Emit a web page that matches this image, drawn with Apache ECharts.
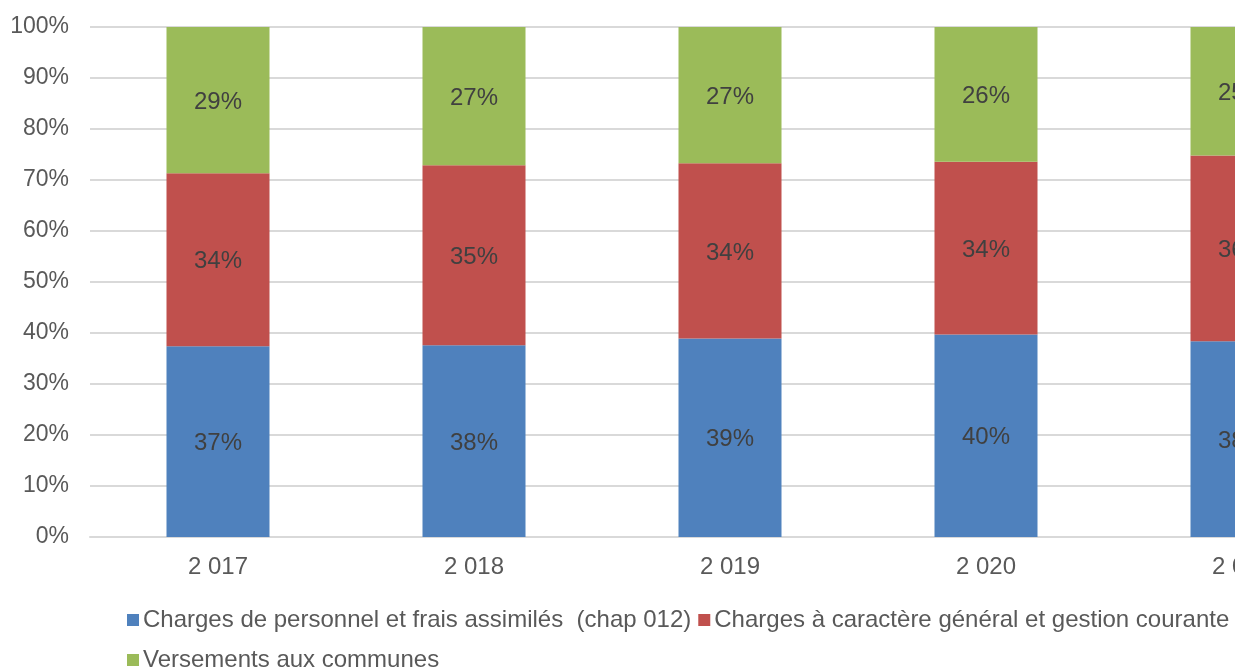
<!DOCTYPE html>
<html>
<head>
<meta charset="utf-8">
<script src="https://cdn.jsdelivr.net/npm/echarts@6/dist/echarts.min.js"></script>
<style>
	html, body { margin: 0; padding: 0; background: #fff; overflow: hidden; }
	/* the chart is wider than the window: the last year is cut off like in the source */
	#chart { width: 1370px; height: 669px; }
</style>
</head>
<body>
<div id="chart"></div>
<script>
// years shown on the x axis (the last one is cut off by the frame)
var years = ["2 017", "2 018", "2 019", "2 020", "2 021"];
var seriesNames = [
	"Charges de personnel et frais assimilés  (chap 012)",
	"Charges à caractère général et gestion courante",
	"Versements aux communes"
];
// share of each year's total, in percent
var personnel = [37.4, 37.6, 38.9, 39.7, 38.4];
var general = [33.9, 35.3, 34.4, 33.9, 36.4];
var communes = [28.7, 27.1, 26.7, 26.4, 25.2];
var colors = ["#4f81bd", "#c0504d", "#9bbb59"];

var font = "'Liberation Sans', Arial, sans-serif";
var chart = echarts.init(document.getElementById("chart"));

function barSeries(name, data, color) {
	return {
		name: name,
		type: "bar",
		stack: "total",
		data: data,
		barWidth: 103,
		itemStyle: { color: color },
		label: {
			show: true,
			position: "inside",
			offset: [0, 2],
			formatter: function (p) { return Math.round(p.value) + "%"; },
			color: "#404040",
			fontSize: 24,
			fontFamily: font
		}
	};
}

chart.setOption({
	animation: false,
	grid: { left: 90, right: 0, top: 27, bottom: 132, containLabel: false },
	legend: [
		{
			data: seriesNames.slice(0, 2),
			left: 122,
			top: 603,
			icon: "rect",
			itemWidth: 12,
			itemHeight: 12,
			itemGap: 7,
			textStyle: { color: "#595959", fontSize: 24, fontFamily: font, padding: [0, 0, 0, -1] }
		},
		{
			data: seriesNames.slice(2),
			left: 122,
			top: 643,
			icon: "rect",
			itemWidth: 12,
			itemHeight: 12,
			textStyle: { color: "#595959", fontSize: 24, fontFamily: font, padding: [0, 0, 0, -1] }
		}
	],
	xAxis: {
		type: "category",
		data: years,
		axisTick: { show: false },
		axisLine: { show: true, lineStyle: { color: "#d9d9d9", width: 2 } },
		axisLabel: { color: "#595959", fontSize: 24, fontFamily: font, margin: 18 }
	},
	yAxis: {
		type: "value",
		min: 0,
		max: 100,
		interval: 10,
		axisLine: { show: false },
		axisTick: { show: false },
		splitLine: { lineStyle: { color: "#d9d9d9", width: 2 } },
		axisLabel: { formatter: "{value}%", color: "#595959", fontSize: 23, fontFamily: font, margin: 21 }
	},
	series: [
		barSeries(seriesNames[0], personnel, colors[0]),
		barSeries(seriesNames[1], general, colors[1]),
		barSeries(seriesNames[2], communes, colors[2])
	]
});
</script>
</body>
</html>
